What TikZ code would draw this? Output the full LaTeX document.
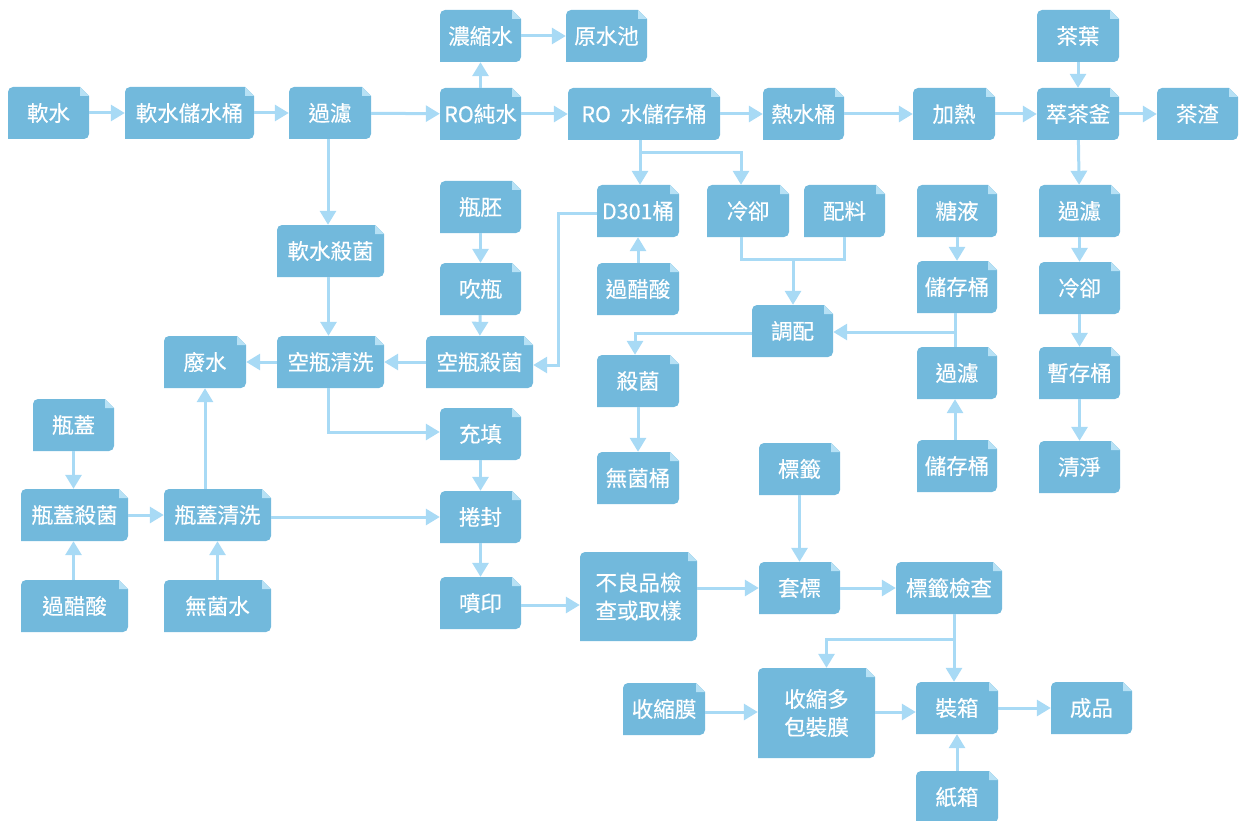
\documentclass[tikz,border=0pt]{standalone}
\usepackage{fontspec}
\usepackage{tikz}
\usetikzlibrary{arrows.meta}
\newfontfamily\cjk[FakeBold=0.4]{Noto Sans CJK TC}
\definecolor{boxblue}{RGB}{114,185,220}
\definecolor{foldblue}{RGB}{183,225,245}
\definecolor{linkblue}{RGB}{168,218,245}
\tikzset{
  flowbox/.style={minimum width=#1, minimum height=52pt, inner sep=0pt, text=white,
    align=center, font={\cjk\fontsize{21.5}{28}\selectfont},
    path picture={
      \fill[boxblue] (path picture bounding box.south west)
        -- ([yshift=-5pt]path picture bounding box.north west)
        arc[start angle=180, end angle=90, radius=5pt]
        -- ([xshift=-9pt]path picture bounding box.north east)
        -- ([yshift=-9pt]path picture bounding box.north east)
        -- ([yshift=5pt]path picture bounding box.south east)
        arc[start angle=0, end angle=-90, radius=5pt] -- cycle;
      \fill[foldblue] ([xshift=-9pt]path picture bounding box.north east)
        -- ([yshift=-9pt]path picture bounding box.north east)
        -- ([shift={(-9pt,-9pt)}]path picture bounding box.north east) -- cycle;
    }},
  flowbox/.default=81pt,
  link/.style={draw=linkblue, line width=3pt},
  flow/.style={link, -{Triangle[width=16pt,length=14pt]}},
}
\begin{document}
\begin{tikzpicture}[x=1pt,y=-1pt]
    \useasboundingbox (0,0) rectangle (1241,821);

    % top row
    \node[flowbox] (soft) at (48.5,113) {軟水};
    \node[flowbox=129pt] (softtank) at (189.5,113) {軟水儲水桶};
    \node[flowbox=82pt] (filterA) at (330,113) {過濾};
    \node[flowbox] (conc) at (480.5,36) {濃縮水};
    \node[flowbox] (rawpool) at (606.5,36) {原水池};
    \node[flowbox] (ro) at (480.5,114) {RO純水};
    \node[flowbox=152pt] (rotank) at (644,114) {RO\ \ 水儲存桶};
    \node[flowbox] (hottank) at (803.5,114) {熱水桶};
    \node[flowbox=82pt] (heat) at (954,114) {加熱};
    \node[flowbox=82pt] (brew) at (1078,114) {萃茶釜};
    \node[flowbox=82pt] (leaf) at (1078,36) {茶葉};
    \node[flowbox] (dregs) at (1197.5,114) {茶渣};

    % second row
    \node[flowbox=107pt] (softster) at (330.5,251) {軟水殺菌};
    \node[flowbox] (preform) at (480.5,207) {瓶胚};
    \node[flowbox=82pt] (dtank) at (638,211) {D301桶};
    \node[flowbox=82pt] (coolA) at (748,211) {冷卻};
    \node[flowbox] (mixin) at (844.5,211) {配料};
    \node[flowbox=80pt] (syrup) at (957,211) {糖液};
    \node[flowbox] (filterC) at (1079.5,211) {過濾};
    \node[flowbox] (blow) at (480.5,289) {吹瓶};
    \node[flowbox=82pt] (acidA) at (638,289) {過醋酸};
    \node[flowbox=80pt] (storeA) at (957,287) {儲存桶};
    \node[flowbox] (coolB) at (1079.5,288) {冷卻};
    \node[flowbox] (blend) at (792.5,331) {調配};

    % middle
    \node[flowbox=82pt] (wastew) at (205,362) {廢水};
    \node[flowbox=107pt] (bwash) at (330.5,362) {空瓶清洗};
    \node[flowbox=107pt] (bster) at (479.5,362) {空瓶殺菌};
    \node[flowbox=82pt] (ster) at (638,381) {殺菌};
    \node[flowbox=80pt] (filterB) at (957,373) {過濾};
    \node[flowbox] (holdtank) at (1079.5,373) {暫存桶};
    \node[flowbox] (cap) at (73.5,425) {瓶蓋};
    \node[flowbox] (fill) at (480.5,434) {充填};
    \node[flowbox] (label) at (799.5,469) {標籤};
    \node[flowbox=80pt] (storeB) at (957,466) {儲存桶};
    \node[flowbox] (clean) at (1079.5,467) {清淨};
    \node[flowbox=82pt] (asepttank) at (638,478) {無菌桶};

    % bottom
    \node[flowbox=107pt] (capster) at (74.5,515) {瓶蓋殺菌};
    \node[flowbox=107pt] (capwash) at (217.5,515) {瓶蓋清洗};
    \node[flowbox] (seal) at (480.5,517) {捲封};
    \node[flowbox=107pt] (acidB) at (74.5,606) {過醋酸};
    \node[flowbox=107pt] (asepw) at (217.5,606) {無菌水};
    \node[flowbox] (print) at (480.5,603) {噴印};
    \node[flowbox=117pt, minimum height=89pt] (qc) at (638.5,596.5) {不良品檢\\查或取樣};
    \node[flowbox] (sleeve) at (799.5,588) {套標};
    \node[flowbox=106pt] (lcheck) at (949,588) {標籤檢查};
    \node[flowbox=82pt] (shrink) at (664,709) {收縮膜};
    \node[flowbox=117pt, minimum height=90pt] (multipack) at (816.5,713) {收縮多\\包裝膜};
    \node[flowbox=82pt] (boxing) at (957,708) {裝箱};
    \node[flowbox] (product) at (1091.5,708) {成品};
    \node[flowbox=82pt] (carton) at (957,797) {紙箱};

    \coordinate (split) at (640,153);
    \coordinate (mixjoin) at (793,259);
    \coordinate (syrupjoin) at (955,332);
    \coordinate (packsplit) at (954,639);

    \draw[flow] (soft) -- (softtank);
    \draw[flow] (softtank) -- (filterA);
    \draw[flow] (filterA) -- (ro);
    \draw[flow] (ro) -- (conc);
    \draw[flow] (conc) -- (rawpool);
    \draw[flow] (ro) -- (rotank);
    \draw[flow] (rotank) -- (hottank);
    \draw[flow] (hottank) -- (heat);
    \draw[flow] (heat) -- (brew);
    \draw[flow] (leaf) -- (brew);
    \draw[flow] (brew) -- (dregs);
    \draw[flow] (brew) -- (filterC);
    \draw[flow] (filterC) -- (coolB);
    \draw[flow] (coolB) -- (holdtank);
    \draw[flow] (holdtank) -- (clean);

    \draw[flow] ([xshift=-2pt]filterA.south) -- ([xshift=-2pt]filterA.south |- softster.north);
    \draw[flow] ([xshift=-2pt]softster.south) -- ([xshift=-2pt]softster.south |- bwash.north);
    \draw[link] (rotank.south -| split) -- (split);
    \draw[flow] (split) -- (split |- dtank.north);
    \draw[flow] (split) -| ([xshift=-7pt]coolA.north);
    \draw[flow] (dtank.west |- 0,213) -- ++(-38,0) |- ([yshift=-3pt]bster.east);
    \draw[flow] (acidA) -- (dtank);
    \draw[flow] (preform) -- (blow);
    \draw[flow] (blow) -- (bster);
    \draw[flow] (bster) -- (bwash);
    \draw[flow] (bwash) -- (wastew);
    \draw[flow] ([xshift=-2pt]bwash.south) |- ([yshift=2pt]fill.west);
    \draw[flow] (fill) -- (seal);
    \draw[flow] (seal) -- (print);

    \draw[link] ([xshift=-7pt]coolA.south) |- (mixjoin) -| (mixin.south);
    \draw[flow] (mixjoin) -- (mixjoin |- blend.north);
    \draw[flow] (syrup) -- (storeA);
    \draw[link] (storeA.south -| syrupjoin) -- (filterB.north -| syrupjoin);
    \draw[flow] (syrupjoin) -- (syrupjoin -| blend.east);
    \draw[flow] (storeB.north -| syrupjoin) -- (filterB.south -| syrupjoin);
    \draw[flow] ([yshift=-2pt]blend.west) -| ([xshift=-3pt]ster.north);
    \draw[flow] (ster) -- (asepttank);

    \draw[flow] (cap) -- (cap |- capster.north);
    \draw[flow] (acidB.north -| cap) -- (capster.south -| cap);
    \draw[flow] (capster) -- (capwash);
    \draw[flow] (asepw) -- (capwash);
    \draw[flow] (capwash.north -| wastew) -- (wastew.south);
    \draw[flow] (capwash.east |- seal) -- (seal.west);
    \draw[flow] ([yshift=-2pt]print.east) -- ([yshift=-2pt]print.east -| qc.west);
    \draw[flow] (qc.east |- sleeve) -- (sleeve.west);
    \draw[flow] (label) -- (sleeve);
    \draw[flow] (sleeve) -- (lcheck);

    \draw[flow] (lcheck.south -| packsplit) -- (boxing.north -| packsplit);
    \draw[flow] (packsplit) -| ([xshift=10pt]multipack.north);
    \draw[flow] (shrink.east |- 0,712) -- (multipack.west |- 0,712);
    \draw[flow] (multipack.east |- 0,712) -- (boxing.west |- 0,712);
    \draw[flow] (boxing) -- (product);
    \draw[flow] (carton) -- (boxing);
\end{tikzpicture}
\end{document}
